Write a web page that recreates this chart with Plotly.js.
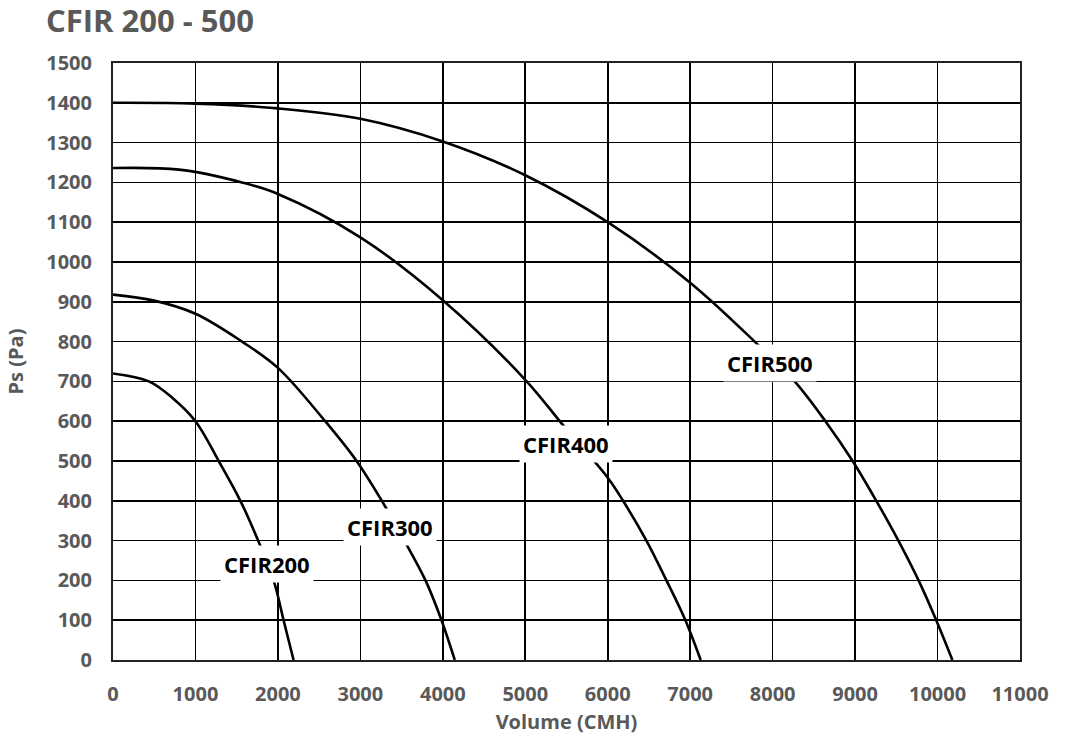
<!DOCTYPE html>
<html>
<head>
<meta charset="utf-8">
<script src="https://cdn.plot.ly/plotly-3.0.1.min.js"></script>
<style>html,body{margin:0;padding:0;background:#fff;}#chart{width:1069px;height:739px;}</style>
</head>
<body>
<div id="chart"></div>
<script>
const chartTitle = "CFIR 200 - 500";
const xTitle = "Volume (CMH)";
const yTitle = "Ps (Pa)";

const cfir200X = [0, 435, 718, 1000, 1282, 1545, 1760, 1948, 2069, 2190];
const cfir200Y = [720, 700, 659, 600, 500, 400, 300, 200, 100, 0];

const cfir300X = [0, 500, 1000, 1565, 2000, 2573, 2954, 3309, 3539, 3790, 3984, 4145];
const cfir300Y = [918, 903, 870, 800, 734, 600, 500, 383, 298, 200, 100, 0];

const cfir400X = [0, 800, 1564, 2000, 3000, 4000, 5000, 5458, 6000, 6186, 6469, 6712, 6942, 7127];
const cfir400Y = [1236, 1232, 1200, 1171, 1062, 904, 704, 590, 458, 400, 300, 200, 100, 0];

const cfir500X = [0, 1000, 2000, 3000, 4000, 5000, 6000, 7000, 7782, 8267, 8640, 8970, 9257, 9525, 9770, 9984, 10180];
const cfir500Y = [1400, 1398, 1386, 1360, 1303, 1218, 1100, 948, 800, 700, 600, 500, 400, 300, 200, 100, 0];

const labelNames = ["CFIR200", "CFIR300", "CFIR400", "CFIR500"];
const labelX = [1867, 3358, 5491, 7964];
const labelY = [241, 334, 543, 746];

const xTicks = [0, 1000, 2000, 3000, 4000, 5000, 6000, 7000, 8000, 9000, 10000, 11000];
const yTicks = [0, 100, 200, 300, 400, 500, 600, 700, 800, 900, 1000, 1100, 1200, 1300, 1400, 1500];

const series = [[cfir200X, cfir200Y], [cfir300X, cfir300Y], [cfir400X, cfir400Y], [cfir500X, cfir500Y]];
const traces = series.map((s, i) => ({
  x: s[0], y: s[1], type: "scatter", mode: "lines", name: labelNames[i],
  line: {color: "#000", width: 2.6, shape: "spline", smoothing: 1},
  hoverinfo: "x+y"
}));

const gray = "#595959";
const fontFam = "'Open Sans', 'Noto Sans', sans-serif";

const annotations = labelNames.map((t, i) => ({
  x: labelX[i], y: labelY[i], xref: "x", yref: "y", text: "<b>" + t + "</b>",
  showarrow: false, bgcolor: "#fff", borderpad: 3,
  font: {family: fontFam, size: 22, color: "#000"}
}));

const layout = {
  width: 1069, height: 739,
  paper_bgcolor: "#fff", plot_bgcolor: "#fff",
  margin: {l: 113, r: 49, t: 63, b: 79},
  showlegend: false,
  title: {text: "<b>" + chartTitle + "</b>", x: 0.043, xanchor: "left", y: 0.972, yanchor: "middle",
          font: {family: fontFam, size: 31, color: gray}},
  xaxis: {
    range: [0, 11000], tickvals: xTicks, ticktext: xTicks.map(String),
    showgrid: true, gridcolor: "#000", gridwidth: 1.7,
    showline: true, linecolor: "#222", linewidth: 2, mirror: true,
    zeroline: false, ticks: "", ticklabelstandoff: 15,
    tickfont: {family: fontFam, size: 20, color: gray, weight: "bold"},
    title: {text: "<b>" + xTitle + "</b>", standoff: 9, font: {family: fontFam, size: 20, color: gray}}
  },
  yaxis: {
    range: [0, 1500], tickvals: yTicks, ticktext: yTicks.map(String),
    showgrid: true, gridcolor: "#000", gridwidth: 1.7,
    showline: true, linecolor: "#222", linewidth: 2, mirror: true,
    zeroline: false, ticks: "", ticklabelstandoff: 15,
    tickfont: {family: fontFam, size: 20, color: gray, weight: "bold"},
    title: {text: "<b>" + yTitle + "</b>", standoff: 17, font: {family: fontFam, size: 20, color: gray}}
  },
  annotations: annotations
};

Plotly.newPlot("chart", traces, layout, {displayModeBar: false, staticPlot: true});
</script>
</body>
</html>
